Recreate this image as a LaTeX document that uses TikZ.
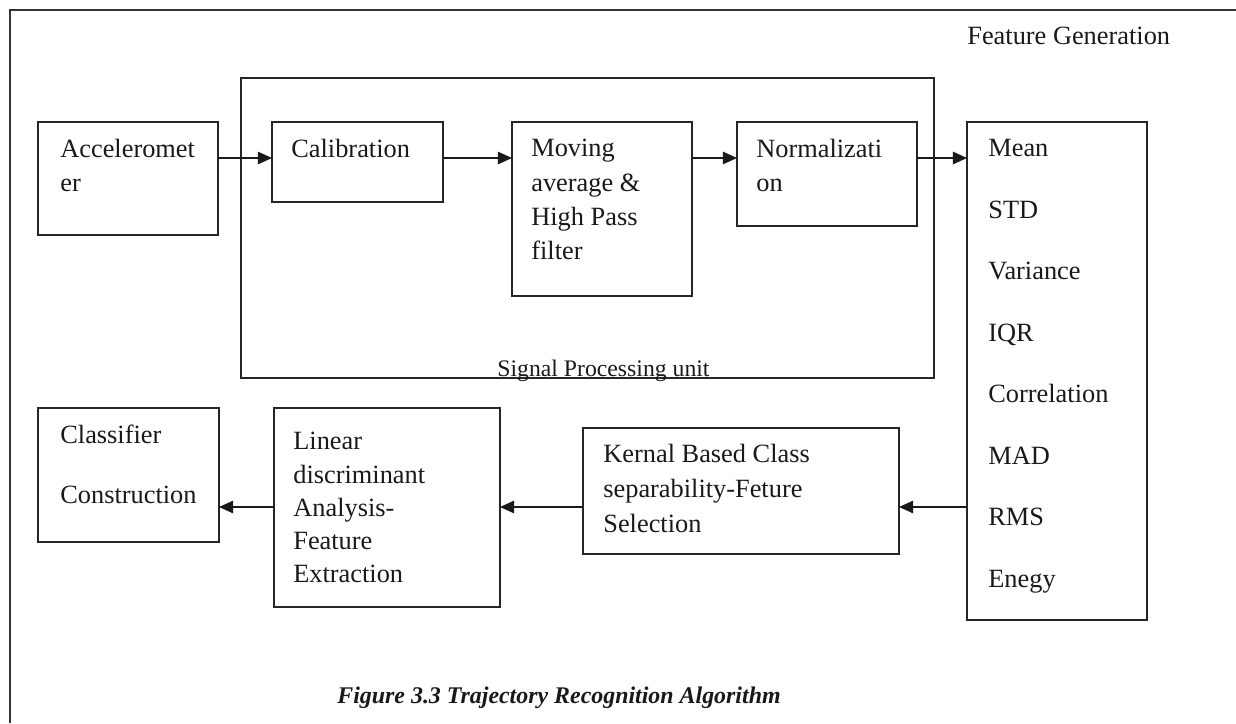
\documentclass[tikz,border=0pt]{standalone}
\usepackage{fontspec}
\setmainfont{Liberation Serif}
\usetikzlibrary{arrows.meta}

\begin{document}
\begin{tikzpicture}[>={Triangle[length=8pt,width=7pt]}, blk/.style={draw=black!85, line width=1.1pt, anchor=north west, inner sep=0, outer sep=0}, txt/.style={anchor=north west, inner sep=0, align=left, text=black!90, font=\fontsize{15}{19.5}\selectfont}, dbl/.style={txt, font=\fontsize{15}{35}\selectfont}, arr/.style={->, line width=0.9pt, draw=black!90}]
\useasboundingbox (0,0) rectangle (24.72,-14.46);
\draw[line width=1.1pt, black!80] (0.2,-14.46)--(0.2,-0.2)--(24.72,-0.2);
\node[blk, minimum width=13.86cm, minimum height=6cm] (spu) at (4.82,-1.56) {};
\node[blk, minimum width=3.6cm, minimum height=2.26cm] (acc) at (0.76,-2.44) {};
\node[blk, minimum width=3.42cm, minimum height=1.6cm] (cal) at (5.44,-2.44) {};
\node[blk, minimum width=3.6cm, minimum height=3.48cm] (mov) at (10.24,-2.44) {};
\node[blk, minimum width=3.6cm, minimum height=2.08cm] (nrm) at (14.74,-2.44) {};
\node[blk, minimum width=3.6cm, minimum height=9.96cm] (feat) at (19.34,-2.44) {};
\node[blk, minimum width=3.62cm, minimum height=2.68cm] (cls) at (0.76,-8.16) {};
\node[blk, minimum width=4.52cm, minimum height=3.98cm] (lda) at (5.48,-8.16) {};
\node[blk, minimum width=6.32cm, minimum height=2.52cm] (krn) at (11.66,-8.56) {};
\node[txt] (accT) at ([shift={(0.44,-0.34)}]acc.north west) {Acceleromet\\er};
\node[txt] (calT) at ([shift={(0.38,-0.34)}]cal.north west) {Calibration};
\node[txt] (movT) at ([shift={(0.38,-0.34)}]mov.north west) {Moving\\average \&\\High Pass\\filter};
\node[txt] (nrmT) at ([shift={(0.38,-0.34)}]nrm.north west) {Normalizati\\on};
\node[dbl] (featT) at ([shift={(0.42,-0.34)}]feat.north west) {Mean\\STD\\Variance\\IQR\\Correlation\\MAD\\RMS\\Enegy};
\node[dbl, font=\fontsize{15}{34}\selectfont] (clsT) at ([shift={(0.44,-0.34)}]cls.north west) {Classifier\\Construction};
\node[txt, font=\fontsize{15}{18.9}\selectfont] (ldaT) at ([shift={(0.38,-0.48)}]lda.north west) {Linear\\discriminant\\Analysis-\\Feature\\Extraction};
\node[txt, font=\fontsize{15}{19.9}\selectfont] (krnT) at ([shift={(0.4,-0.32)}]krn.north west) {Kernal Based Class\\separability-Feture\\Selection};
\node[txt, anchor=base west] (fgen) at (19.34,-0.88) {Feature Generation};
\node[txt, anchor=base west, font=\fontsize{13.5}{16}\selectfont] (spuT) at (9.94,-7.53) {Signal Processing unit};
\node[txt, anchor=base west, font=\fontsize{13.6}{16}\selectfont\bfseries\itshape] (cap) at (6.74,-14.06) {Figure 3.3 Trajectory Recognition Algorithm};
\coordinate (hi) at (0,-3.16); \coordinate (lo) at (0,-10.14);
\draw[arr] (acc.east |- hi)--(cal.west |- hi); \draw[arr] (cal.east |- hi)--(mov.west |- hi);
\draw[arr] (mov.east |- hi)--(nrm.west |- hi); \draw[arr] (nrm.east |- hi)--(feat.west |- hi);
\draw[arr] (feat.west |- lo)--(krn.east |- lo); \draw[arr] (krn.west |- lo)--(lda.east |- lo);
\draw[arr] (lda.west |- lo)--(cls.east |- lo);
\end{tikzpicture}
\end{document}
